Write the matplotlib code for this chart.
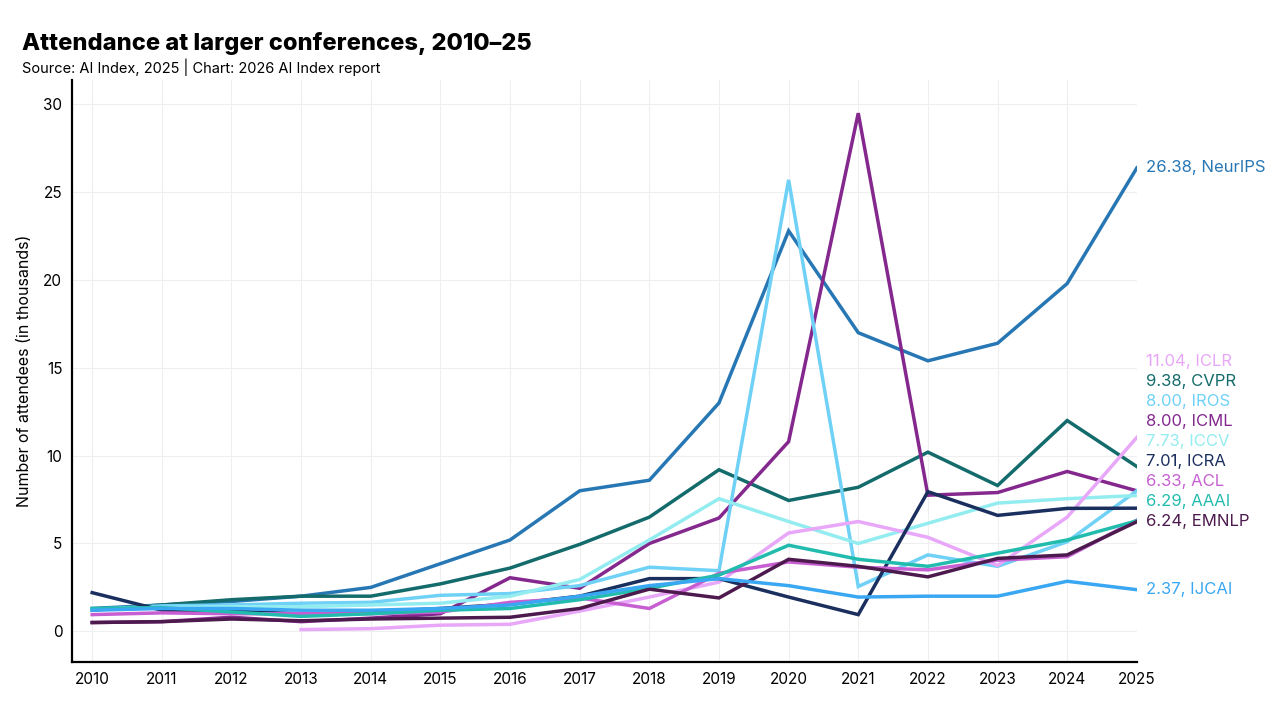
import numpy as np
import matplotlib
matplotlib.use("Agg")
import matplotlib.pyplot as plt

plt.rcParams['font.family'] = ['Inter', 'DejaVu Sans']

years = list(range(2010, 2026))
nan = np.nan

### Attendance values (thousands)
neurips = [1.3, 1.5, 1.7, 2.0, 2.5, 3.85, 5.2, 8.0, 8.6, 13.0, 22.8, 17.0, 15.4, 16.4, 19.8, 26.38]
cvpr = [1.2, 1.5, 1.8, 2.0, 2.0, 2.7, 3.6, 4.95, 6.5, 9.2, 7.45, 8.2, 10.2, 8.3, 12.0, 9.38]
icml = [0.5, 0.55, 0.8, 0.55, 0.75, 1.0, 3.05, 2.45, 5.0, 6.45, 10.8, 29.5, 7.75, 7.9, 9.1, 8.0]
iros = [1.25, 1.45, 1.5, 1.6, 1.65, 2.05, 2.15, 2.6, 3.65, 3.45, 25.7, 2.55, 4.35, 3.7, 5.1, 8.0]
iccv = [1.25, 1.35, 1.4, 1.4, 1.5, 1.6, 2.0, 2.95, 5.2, 7.55, 6.25, 5.0, 6.15, 7.3, 7.55, 7.73]
iclr = [nan, nan, nan, 0.1, 0.15, 0.35, 0.4, 1.15, 1.95, 2.8, 5.6, 6.25, 5.35, 3.75, 6.5, 11.04]
icra = [2.2, 1.2, 1.15, 1.0, 1.1, 1.3, 1.55, 2.0, 3.0, 3.0, 1.95, 0.95, 7.95, 6.6, 7.0, 7.01]
acl = [0.95, 1.05, 1.0, 1.0, 1.0, 1.1, 1.65, 1.9, 1.3, 3.3, 3.95, 3.65, 3.5, 4.05, 4.25, 6.33]
aaai = [1.3, 1.35, 1.1, 0.85, 1.0, 1.2, 1.3, 1.8, 2.45, 3.2, 4.9, 4.1, 3.7, 4.45, 5.2, 6.29]
emnlp = [0.5, 0.55, 0.7, 0.6, 0.7, 0.75, 0.8, 1.3, 2.4, 1.9, 4.1, 3.7, 3.1, 4.15, 4.35, 6.24]
ijcai = [1.2, 1.3, 1.3, 1.2, 1.2, 1.3, 1.5, 2.0, 2.6, 3.0, 2.6, 1.95, 2.0, 2.0, 2.85, 2.37]

series = [
    ("NeurIPS", neurips, "#2777b4"),
    ("CVPR", cvpr, "#146b6b"),
    ("ICML", icml, "#84288e"),
    ("IROS", iros, "#6fd1f6"),
    ("ICCV", iccv, "#93ecef"),
    ("ICLR", iclr, "#e8a7f8"),
    ("ICRA", icra, "#1b2f5f"),
    ("ACL", acl, "#c75fd2"),
    ("AAAI", aaai, "#22bcae"),
    ("EMNLP", emnlp, "#4d1a4e"),
    ("IJCAI", ijcai, "#3aa7f2"),
]

fig = plt.figure(figsize=(12.8, 7.06), dpi=100)
ax = fig.add_axes([0.05625, 0.062, 0.8319, 0.825])

for name, vals, col in series:
    ax.plot(years, vals, color=col, linewidth=2.5, solid_joinstyle='miter', zorder=3)

### End labels, stacked upward from the lowest so they don't overlap
gap = 1.14
order = sorted(range(len(series)), key=lambda i: series[i][1][-1])
prev = -100
for i in order:
    name, vals, col = series[i]
    ypos = max(vals[-1], prev + gap)
    prev = ypos
    ax.annotate(f"{vals[-1]:.2f}, {name}", xy=(2025, ypos), xytext=(6.5, 0),
                textcoords='offset points', va='center', ha='left',
                fontsize=12, color=col, annotation_clip=False)

ax.set_xlim(2009.71, 2025)
ax.set_ylim(-1.76, 31.4)
ax.set_xticks(years)
ax.set_yticks(range(0, 31, 5))
ax.tick_params(length=0, labelsize=11, pad=7)
ax.grid(True, color='#efefef', linewidth=0.8, zorder=0)
for s in ['top', 'right']:
    ax.spines[s].set_visible(False)
for s in ['left', 'bottom']:
    ax.spines[s].set_linewidth(1.6)
    ax.spines[s].set_color('black')
ax.set_ylabel("Number of attendees (in thousands)", fontsize=11.5, labelpad=8)

fig.text(0.017, 0.938, "Attendance at larger conferences, 2010–25", fontsize=17,
         weight='heavy', va='center', ha='left')
fig.text(0.017, 0.905, "Source: AI Index, 2025 | Chart: 2026 AI Index report", fontsize=10.5,
         va='center', ha='left')

fig.savefig("out.png", dpi=100)
